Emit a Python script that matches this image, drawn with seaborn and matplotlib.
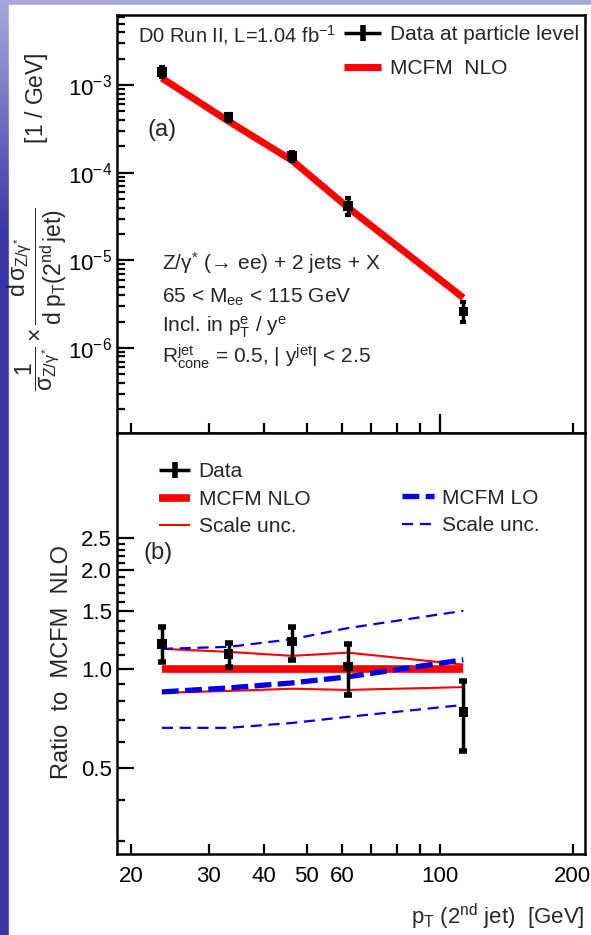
import numpy as np
import pandas as pd
import matplotlib
matplotlib.use("Agg")
import matplotlib.pyplot as plt
import seaborn as sns
from matplotlib.lines import Line2D
from matplotlib.patches import Rectangle
from matplotlib.ticker import FixedLocator, FixedFormatter, NullFormatter, LogLocator

# ---------------- data ----------------
pt = [23.5, 33.3, 46.3, 62.0, 113.0]

# panel (a): normalized cross section
xs_data = [1.41e-3, 4.31e-4, 1.55e-4, 4.17e-5, 2.60e-6]
xs_lo = [1.24e-3, 3.92e-4, 1.37e-4, 3.30e-5, 1.99e-6]
xs_hi = [1.60e-3, 4.70e-4, 1.73e-4, 5.15e-5, 3.36e-6]
xs_nlo = [1.20e-3, 3.85e-4, 1.38e-4, 4.0e-5, 3.73e-6]

# panel (b): ratio to MCFM NLO
r_data = [1.19, 1.11, 1.21, 1.015, 0.74]
r_lo = [1.05, 1.01, 1.06, 0.83, 0.563]
r_hi = [1.34, 1.20, 1.34, 1.19, 0.92]
r_nlo = [1.0, 1.0, 1.0, 1.0, 1.0]
r_nlo_up = [1.15, 1.126, 1.095, 1.12, 1.03]
r_nlo_dn = [0.846, 0.857, 0.87, 0.863, 0.88]
r_lo_c = [0.851, 0.875, 0.906, 0.946, 1.065]
r_lo_up = [1.15, 1.166, 1.23, 1.33, 1.50]
r_lo_dn = [0.662, 0.662, 0.685, 0.715, 0.777]

xticks_major = [20, 30, 40, 50, 60, 100, 200]
xtick_labels = ["20", "30", "40", "50", "60", "100", "200"]
xticks_minor = [70, 80, 90]
ratio_ticks = [0.5, 1.0, 1.5, 2.0, 2.5]
ratio_labels = ["0.5", "1.0", "1.5", "2.0", "2.5"]
ratio_minor = [0.3, 0.4, 0.6, 0.7, 0.8, 0.9, 1.1, 1.2, 1.3, 1.4, 1.6, 1.7, 1.8, 1.9, 2.1, 2.2, 2.3, 2.4]
dec_ticks = [1e-6, 1e-5, 1e-4, 1e-3]
dec_labels = [r"$10^{-6}$", r"$10^{-5}$", r"$10^{-4}$", r"$10^{-3}$"]

# ---------------- style ----------------
sns.set_style("ticks")
fam = ["Liberation Sans", "DejaVu Sans"]
plt.rcParams["font.family"] = fam
plt.rcParams["mathtext.fontset"] = "custom"
plt.rcParams["mathtext.rm"] = "Liberation Sans"
plt.rcParams["mathtext.it"] = "Liberation Sans"
plt.rcParams["mathtext.bf"] = "Liberation Sans"
plt.rcParams["lines.solid_capstyle"] = "butt"

RED = "#ff0000"
BLUE = "#0000e6"

fig = plt.figure(figsize=(5.91, 9.35), dpi=100)

# slide background
bg = fig.add_axes([0, 0, 1, 1], zorder=-10)
grad = np.linspace(0, 1, 200)
cols = np.zeros((200, 1, 3))
top_c = np.array([0.66, 0.66, 0.86])
bot_c = np.array([0.21, 0.21, 0.66])
w = np.clip(grad / 0.25, 0, 1)[:, None]
cols[:, 0, :] = top_c * (1 - w) + bot_c * w
bg.imshow(cols, aspect="auto", extent=[0, 1, 0, 1], origin="upper")
bg.add_patch(Rectangle((9 / 591, 0), 1, 1 - 5 / 935, color="white"))
bg.set_xlim(0, 1)
bg.set_ylim(0, 1)
bg.axis("off")

L, W = 117 / 591, 468 / 591
ax1 = fig.add_axes([L, (935 - 433) / 935, W, 418 / 935])
ax2 = fig.add_axes([L, (935 - 854) / 935, W, 421 / 935])

dfa = pd.DataFrame({"pt": pt, "data": xs_data, "nlo": xs_nlo})
dfb = pd.DataFrame({"pt": pt, "data": r_data, "nlo": r_nlo, "nlo_up": r_nlo_up,
                    "nlo_dn": r_nlo_dn, "lo": r_lo_c, "lo_up": r_lo_up, "lo_dn": r_lo_dn})

# ---------- panel (a) ----------
sns.lineplot(data=dfa, x="pt", y="nlo", ax=ax1, color=RED, lw=5, zorder=2)
ax1.errorbar(pt, xs_data, yerr=[np.array(xs_data) - np.array(xs_lo), np.array(xs_hi) - np.array(xs_data)],
             fmt="none", ecolor="black", elinewidth=2.5, capsize=2, capthick=3, zorder=3)
sns.scatterplot(data=dfa, x="pt", y="data", ax=ax1, marker="s", s=45, color="black",
                edgecolor="none", zorder=4)

# ---------- panel (b) ----------
sns.lineplot(data=dfb, x="pt", y="nlo", ax=ax2, color=RED, lw=5.5, zorder=2)
sns.lineplot(data=dfb, x="pt", y="nlo_up", ax=ax2, color=RED, lw=1.5, zorder=2)
sns.lineplot(data=dfb, x="pt", y="nlo_dn", ax=ax2, color=RED, lw=1.5, zorder=2)
sns.lineplot(data=dfb, x="pt", y="lo", ax=ax2, color=BLUE, lw=3.8, zorder=2.5)
ax2.lines[-1].set_dashes([3.2, 1.2])
sns.lineplot(data=dfb, x="pt", y="lo_up", ax=ax2, color=BLUE, lw=1.6, zorder=2.5)
ax2.lines[-1].set_dashes([5, 3])
sns.lineplot(data=dfb, x="pt", y="lo_dn", ax=ax2, color=BLUE, lw=1.6, zorder=2.5)
ax2.lines[-1].set_dashes([5, 3])
ax2.errorbar(pt, r_data, yerr=[np.array(r_data) - np.array(r_lo), np.array(r_hi) - np.array(r_data)],
             fmt="none", ecolor="black", elinewidth=2.5, capsize=3, capthick=4, zorder=3)
sns.scatterplot(data=dfb, x="pt", y="data", ax=ax2, marker="s", s=45, color="black",
                edgecolor="none", zorder=4)

TICKFS = 16
for ax in (ax1, ax2):
    ax.set_xscale("log")
    ax.set_yscale("log")
    ax.set_xlim(18.6, 213)
    for s in ax.spines.values():
        s.set_linewidth(1.8)
        s.set_color("black")
        s.set_visible(True)
    ax.xaxis.set_major_locator(FixedLocator(xticks_major))
    ax.xaxis.set_minor_locator(FixedLocator(xticks_minor))
    ax.tick_params(axis="both", which="both", direction="in", width=1.6, colors="black",
                   top=False, right=False, labelsize=TICKFS)
    ax.tick_params(axis="x", which="both", length=7)
    ax.tick_params(axis="y", which="major", length=12)
    ax.tick_params(axis="y", which="minor", length=6)
    ax.set_xlabel("")
    ax.set_ylabel("")
    ax.xaxis.get_major_ticks()[5].tick1line.set_markersize(14)

ax1.set_ylim(1.07e-7, 6.3e-3)
ax1.yaxis.set_major_locator(FixedLocator(dec_ticks))
ax1.yaxis.set_major_formatter(FixedFormatter(dec_labels))
ax1.yaxis.set_minor_locator(LogLocator(base=10, subs=np.arange(2, 10), numticks=20))
ax1.yaxis.set_minor_formatter(NullFormatter())
ax1.xaxis.set_major_formatter(NullFormatter())
ax1.xaxis.set_minor_formatter(NullFormatter())

ax2.set_ylim(0.274, 5.2)
ax2.yaxis.set_major_locator(FixedLocator(ratio_ticks))
ax2.yaxis.set_major_formatter(FixedFormatter(ratio_labels))
ax2.yaxis.set_minor_locator(FixedLocator(ratio_minor))
ax2.yaxis.set_minor_formatter(NullFormatter())
ax2.xaxis.set_major_formatter(FixedFormatter(xtick_labels))
ax2.xaxis.set_minor_formatter(NullFormatter())
ax2.tick_params(axis="x", pad=9)

# labels
ax1.set_ylabel(r"$\dfrac{1}{\sigma_{Z/\gamma^{*}}}\times\dfrac{d\,\sigma_{Z/\gamma^{*}}}{d\;p_{T}(2^{nd}\,jet)}$"
               + "          [1 / GeV]", fontsize=16.5)
ax1.yaxis.set_label_coords(-0.103, 0.505)
ax2.set_ylabel("Ratio  to  MCFM  NLO", fontsize=17)
ax2.yaxis.set_label_coords(-0.094, 0.455)
ax2.set_xlabel(r"p$_{T}$ (2$^{nd}$ jet)  [GeV]", fontsize=16, loc="right")
ax2.xaxis.set_label_coords(1.0, -0.15)
ax2.xaxis.label.set_verticalalignment("center")

TXT = 15
ax1.text(0.045, 0.952, r"D0 Run II, L=1.04 fb$^{-1}$", transform=ax1.transAxes, fontsize=14.5, va="center")
ax1.text(0.066, 0.725, "(a)", transform=ax1.transAxes, fontsize=17, va="center")
ax1.text(0.096, 0.407, r"Z/$\gamma^{*}$ (→ ee) + 2 jets + X", transform=ax1.transAxes, fontsize=TXT, va="center")
ax1.text(0.096, 0.325, r"65 < M$_{ee}$ < 115 GeV", transform=ax1.transAxes, fontsize=TXT, va="center")
ax1.text(0.096, 0.254, r"Incl. in p$_{T}^{e}$ / y$^{e}$", transform=ax1.transAxes, fontsize=TXT, va="center")
ax1.text(0.096, 0.182, r"R$_{cone}^{jet}$ = 0.5, | y$^{jet}$| < 2.5", transform=ax1.transAxes, fontsize=TXT, va="center")
ax2.text(0.056, 0.715, "(b)", transform=ax2.transAxes, fontsize=17, va="center")

# legends
h_data = Line2D([0], [0], color="black", lw=2.5, marker="|", ms=12, mew=4)
h_nlo_a = Line2D([0], [0], color=RED, lw=5)
leg1 = ax1.legend([h_data, h_nlo_a], ["Data at particle level", "MCFM  NLO"], loc="upper left",
                  bbox_to_anchor=(0.485, 0.975), frameon=False, fontsize=TXT, handlelength=1.8,
                  handletextpad=0.4, labelspacing=0.7, borderaxespad=0, borderpad=0)

h_nlo_b = Line2D([0], [0], color=RED, lw=5.5)
h_nlo_s = Line2D([0], [0], color=RED, lw=1.5)
legb1 = ax2.legend([h_data, h_nlo_b, h_nlo_s], ["Data", "MCFM NLO", "Scale unc."], loc="upper left",
                   bbox_to_anchor=(0.09, 0.93), frameon=False, fontsize=TXT, handlelength=1.5,
                   handletextpad=0.4, labelspacing=0.4, borderaxespad=0, borderpad=0)
ax2.add_artist(legb1)
h_lo = Line2D([0], [0], color=BLUE, lw=3.8, dashes=[3.2, 1.2])
h_lo_s = Line2D([0], [0], color=BLUE, lw=1.6, dashes=[5, 3])
legb2 = ax2.legend([h_lo, h_lo_s], ["MCFM LO", "Scale unc."], loc="upper left",
                   bbox_to_anchor=(0.61, 0.868), frameon=False, fontsize=TXT, handlelength=1.5,
                   handletextpad=0.4, labelspacing=0.4, borderaxespad=0, borderpad=0)

fig.savefig("out.png", dpi=100)
